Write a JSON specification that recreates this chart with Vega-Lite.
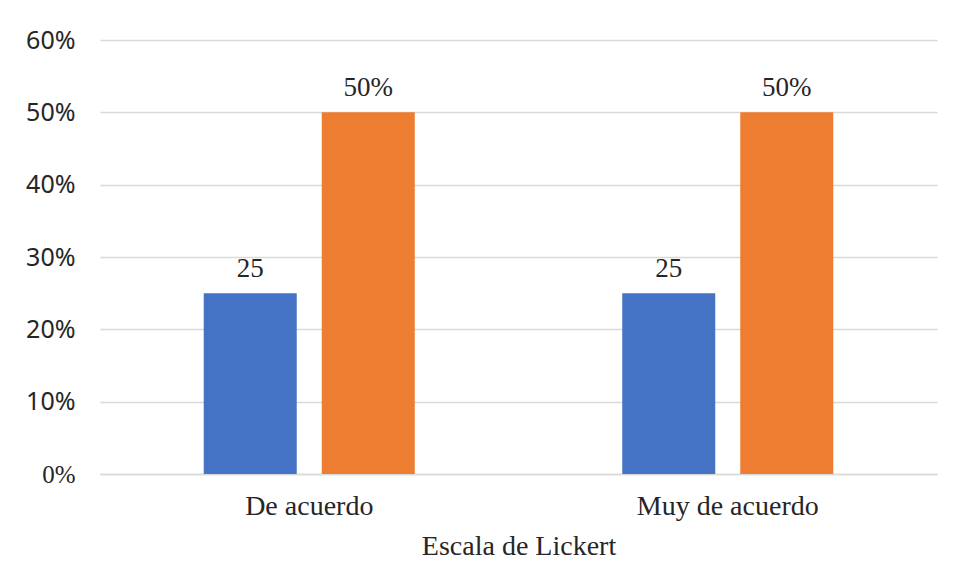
{
  "$schema": "https://vega.github.io/schema/vega-lite/v6.json",
  "autosize": {"type": "none"},
  "padding": {"left": 100, "top": 40, "right": 17, "bottom": 114},
  "width": 837,
  "height": 434,
  "background": "white",
  "data": {
    "values": [
      {"categoria": "De acuerdo", "serie": "A", "valor": 0.25, "etiqueta": "25"},
      {"categoria": "De acuerdo", "serie": "B", "valor": 0.50, "etiqueta": "50%"},
      {"categoria": "Muy de acuerdo", "serie": "A", "valor": 0.25, "etiqueta": "25"},
      {"categoria": "Muy de acuerdo", "serie": "B", "valor": 0.50, "etiqueta": "50%"}
    ]
  },
  "encoding": {
    "x": {
      "field": "categoria", "type": "nominal", "sort": null,
      "scale": {"paddingInner": 0, "paddingOuter": 0},
      "axis": {
        "title": "Escala de Lickert", "labelAngle": 0, "ticks": false,
        "domainColor": "#d9d9d9", "domainWidth": 1.5,
        "labelFont": "Liberation Serif", "labelFontSize": 28, "labelColor": "#262626",
        "labelPadding": 18, "labelLimit": 0,
        "titleFont": "Liberation Serif", "titleFontSize": 28, "titleFontWeight": "normal", "titleColor": "#262626",
        "titlePadding": 12
      }
    },
    "xOffset": {
      "field": "serie", "type": "nominal",
      "scale": {"paddingInner": 0.212, "paddingOuter": 0.879}
    },
    "y": {
      "field": "valor", "type": "quantitative",
      "scale": {"domain": [0, 0.6], "nice": false},
      "axis": {
        "title": null, "format": "%", "values": [0, 0.1, 0.2, 0.3, 0.4, 0.5, 0.6],
        "domain": false, "ticks": false, "gridColor": "#d9d9d9", "gridWidth": 1.5,
        "labelFont": {"condition": {"test": "datum.label == '0%'", "value": "Liberation Serif"}, "value": "Noto Sans"},
        "labelFontSize": 25, "labelColor": "#262626", "labelPadding": 25
      }
    }
  },
  "layer": [
    {
      "mark": {"type": "bar"},
      "encoding": {
        "color": {
          "field": "serie", "type": "nominal",
          "scale": {"domain": ["A", "B"], "range": ["#4472C4", "#ED7D31"]},
          "legend": null
        }
      }
    },
    {
      "mark": {"type": "text", "baseline": "bottom", "dy": -10, "font": "Liberation Serif", "fontSize": 27, "color": "#262626"},
      "encoding": {
        "text": {"field": "etiqueta", "type": "nominal"}
      }
    }
  ],
  "config": {"view": {"stroke": null}}
}
